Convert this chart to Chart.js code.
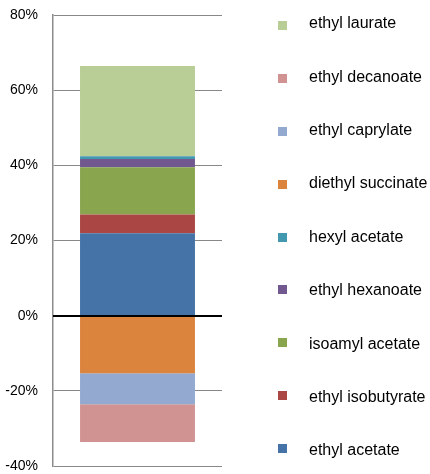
<!DOCTYPE html>
<html>
<head>
<meta charset="utf-8">
<script src="https://cdn.jsdelivr.net/npm/chart.js@4/dist/chart.umd.min.js"></script>
<style>
  html, body { margin: 0; padding: 0; background: #fff; }
  #wrap { width: 430px; height: 474px; position: relative; }
</style>
</head>
<body>
<div id="wrap"><canvas id="c" width="430" height="474"></canvas></div>
<script>
// ---- data ----
const categories = [''];
const seriesNames = [
  'ethyl acetate', 'ethyl isobutyrate', 'isoamyl acetate', 'ethyl hexanoate',
  'hexyl acetate', 'diethyl succinate', 'ethyl caprylate', 'ethyl decanoate', 'ethyl laurate'
];
const seriesValues = [21.9, 5.0, 12.6, 2.2, 0.7, -15.3, -8.3, -10.0, 24.0];
const seriesColors = [
  '#4572A7', '#AA4643', '#89A54E', '#71588F',
  '#4198AF', '#DB843D', '#93A9CF', '#D19392', '#B9CD96'
];
const yTicks = { min: -40, max: 80, step: 20 };

const FONT = '"Liberation Sans", Arial, sans-serif';

const datasets = seriesNames.map((name, i) => ({
  label: name,
  data: [seriesValues[i]],
  backgroundColor: seriesColors[i],
  borderWidth: 0,
  barPercentage: 0.68,
  categoryPercentage: 1.0
}));

// zero line drawn over the bar
const zeroLine = {
  id: 'zeroLine',
  afterDatasetsDraw(chart) {
    const { ctx, chartArea, scales } = chart;
    const y = Math.round(scales.y.getPixelForValue(0));
    ctx.save();
    ctx.strokeStyle = '#000';
    ctx.lineWidth = 2;
    ctx.beginPath();
    ctx.moveTo(chartArea.left, y);
    ctx.lineTo(chartArea.right, y);
    ctx.stroke();
    ctx.restore();
  }
};

// legend drawn on the right, reversed order, wide spacing
const sideLegend = {
  id: 'sideLegend',
  afterDraw(chart) {
    const { ctx } = chart;
    const ds = chart.data.datasets.slice().reverse();
    ctx.save();
    ctx.font = '16px ' + FONT;
    ctx.textBaseline = 'middle';
    ctx.textAlign = 'left';
    ds.forEach((d, i) => {
      const boxCy = 25.7 + i * 52.85;
      const textCy = 23.8 + i * 53.4;
      ctx.fillStyle = d.backgroundColor;
      ctx.fillRect(278, Math.round(boxCy - 4.5), 9, 9);
      ctx.fillStyle = '#000';
      ctx.fillText(d.label, 309, textCy);
    });
    ctx.restore();
  }
};

new Chart(document.getElementById('c'), {
  type: 'bar',
  data: { labels: categories, datasets },
  options: {
    responsive: false,
    animation: false,
    devicePixelRatio: 1,
    layout: { padding: { left: 0, right: 208, top: 15, bottom: 8 } },
    plugins: {
      legend: { display: false },
      tooltip: { enabled: false }
    },
    scales: {
      x: {
        stacked: true,
        display: false
      },
      y: {
        stacked: true,
        min: yTicks.min,
        max: yTicks.max,
        afterFit(scale) {
          scale.width = 53;
          scale.paddingTop = 0;
          scale.paddingBottom = 0;
        },
        ticks: {
          stepSize: yTicks.step,
          padding: 15,
          color: '#000',
          font: { family: FONT, size: 14 },
          callback: v => v + '%'
        },
        grid: {
          drawTicks: false,
          color: '#888888',
          lineWidth: 1
        },
        border: { display: true, color: '#8c8c8c', width: 1.5 }
      }
    }
  },
  plugins: [zeroLine, sideLegend]
});
</script>
</body>
</html>
